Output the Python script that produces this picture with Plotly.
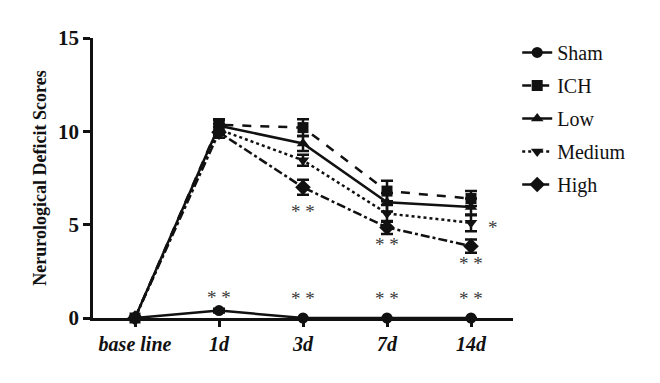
import plotly.graph_objects as go

categories = ["base line", "1d", "3d", "7d", "14d"]
sham = [0, 0.4, 0, 0, 0]
sham_err = [0, 0.1, 0, 0, 0]
ich = [0, 10.35, 10.2, 6.8, 6.4]
ich_err = [0, 0.3, 0.45, 0.55, 0.4]
low = [0, 10.3, 9.35, 6.2, 5.95]
low_err = [0, 0.3, 0.4, 0.5, 0.45]
medium = [0, 10.1, 8.45, 5.6, 5.1]
medium_err = [0, 0.3, 0.3, 0.45, 0.45]
high = [0, 9.95, 7.0, 4.85, 3.85]
high_err = [0, 0.3, 0.4, 0.35, 0.35]

series = [
    ("Sham", sham, sham_err, "solid", "circle"),
    ("ICH", ich, ich_err, "dash", "square"),
    ("Low", low, low_err, "solid", "triangle-up"),
    ("Medium", medium, medium_err, "dot", "triangle-down"),
    ("High", high, high_err, "dashdot", "diamond"),
]

# significance marks: (category, y, text)
sig_cats = ["1d", "3d", "7d", "14d", "3d", "7d", "14d", "14d"]
sig_y = [1.1, 1.05, 1.05, 1.05, 5.7, 3.95, 2.9, 4.85]
sig_text = ["* *", "* *", "* *", "* *", "* *", "* *", "* *", "*"]
sig_dx = [0, 0, 0, 0, 0, 0, 0, 22]

SERIF = "Liberation Serif, DejaVu Serif, serif"
INK = "#111111"

fig = go.Figure()
for i, (name, vals, errs, dash, sym) in enumerate(series):
    fig.add_trace(go.Scatter(
        x=categories, y=vals, name=name, mode="lines+markers",
        legendgroup=name,
        line=dict(color=INK, width=2.5, dash=dash),
        marker=dict(symbol=sym, size=11 if sym != "diamond" else 12, color=INK),
        error_y=dict(type="data", array=errs, visible=True, color=INK, thickness=2.5, width=6),
        cliponaxis=False,
    ))

for c, y, t, dx in zip(sig_cats, sig_y, sig_text, sig_dx):
    fig.add_annotation(x=c, y=y, text=t, showarrow=False, xshift=dx,
                       font=dict(family=SERIF, size=19, color="#3a3a3a"))

# page body has an 8px margin, compensate in figure size / margins
fig.update_layout(
    width=652, height=375,
    margin=dict(l=85, r=147, t=30, b=65),
    paper_bgcolor="white", plot_bgcolor="white",
    font=dict(family=SERIF, color=INK),
    legend=dict(x=1.01, xanchor="left", y=1.018, yanchor="top",
                font=dict(family=SERIF, size=20, color=INK),
                tracegroupgap=4, itemwidth=30, bgcolor="rgba(0,0,0,0)"),
    showlegend=True,
)
fig.update_xaxes(
    type="category", range=[-0.5, 4.5], showline=True, linecolor=INK, linewidth=2.5,
    ticks="outside", ticklen=6, tickwidth=2.5, tickcolor=INK, showgrid=False, zeroline=False,
    tickfont=dict(family=SERIF, size=20, color=INK, weight="bold", style="italic"),
)
fig.update_yaxes(
    range=[0, 15], tickvals=[0, 5, 10, 15], showline=True, linecolor=INK, linewidth=2.5,
    ticks="outside", ticklen=7, tickwidth=2.5, tickcolor=INK, showgrid=False, zeroline=False,
    tickfont=dict(family=SERIF, size=21, color=INK, weight="bold"),
    title=dict(text="Nerurological Deficit Scores", standoff=7,
               font=dict(family=SERIF, size=18, color=INK, weight="bold")),
)

fig.write_html("out.html")
